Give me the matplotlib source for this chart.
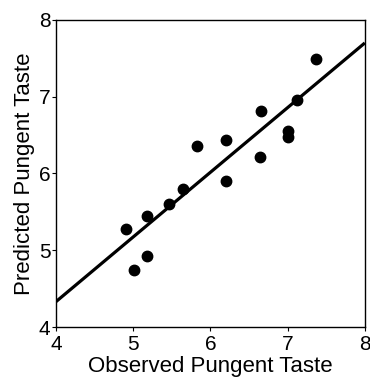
import matplotlib.pyplot as plt
import numpy as np

plt.rcParams['font.family'] = ['Liberation Sans', 'DejaVu Sans']

# observed vs predicted pungent taste
observed = [7.37, 7.12, 6.65, 7.01, 7.01, 6.64, 6.20, 5.83, 6.20, 5.65,
            5.46, 5.18, 4.91, 5.18, 5.01]
predicted = [7.49, 6.96, 6.81, 6.55, 6.48, 6.22, 6.44, 6.36, 5.90, 5.80,
             5.60, 5.45, 5.28, 4.92, 4.74]

# fitted line: endpoints read at x = 4 and x = 8
fit_x = [4, 8]
fit_y = [4.33, 7.70]

ticks = [4, 5, 6, 7, 8]

fig = plt.figure(figsize=(3.7, 3.83), dpi=100)
ax = fig.add_axes([0.151, 0.146, 0.835, 0.802])

ax.plot(fit_x, fit_y, color='black', linewidth=2.3, solid_capstyle='butt')
ax.plot(observed, predicted, 'o', color='black', markersize=7.5)

ax.set_xlim(4, 8)
ax.set_ylim(4, 8)
ax.set_xticks(ticks)
ax.set_yticks(ticks)
ax.tick_params(direction='out', length=3, width=0.8, labelsize=15, pad=1,
               colors='black')
ax.tick_params(axis='x', pad=3)
for s in ax.spines.values():
    s.set_linewidth(1.0)

ax.set_xlabel('Observed Pungent Taste', fontsize=16, labelpad=1)
ax.set_ylabel('Predicted Pungent Taste', fontsize=16, labelpad=3)

fig.savefig('out.png', dpi=100)
